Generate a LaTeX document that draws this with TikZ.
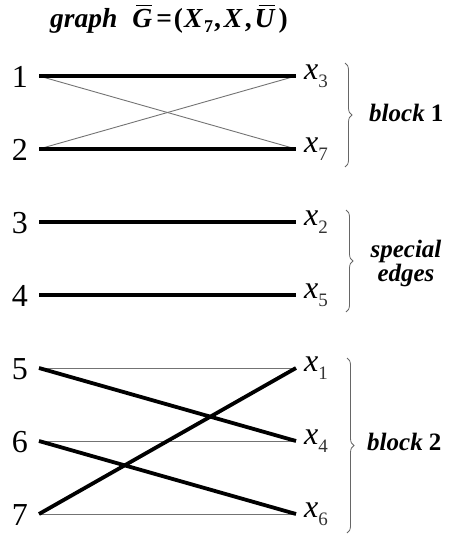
\documentclass[tikz,border=0pt]{standalone}
\usepackage{fontspec}
\setmainfont{Liberation Serif}
\usetikzlibrary{decorations.pathreplacing}
\newcommand{\barred}[3]{\makebox[0pt][l]{\kern#2\rule[22pt]{#3}{1.1pt}}#1}
\tikzset{
  thickedge/.style={line width=3.8pt, black},
  thinedge/.style={line width=0.9pt, black!55},
  numlabel/.style={anchor=base, inner sep=0pt, font=\fontsize{32}{36}\selectfont},
  xlabel/.style={anchor=mid west, inner sep=0pt, font=\fontsize{32}{36}\selectfont},
  bracestyle/.style={decorate, decoration={brace, amplitude=7pt}, line width=0.8pt, black!60},
  blocktext/.style={inner sep=0pt, font=\fontsize{25}{27}\selectfont\bfseries\itshape}
}
\begin{document}
\begin{tikzpicture}[x=1pt, y=-1pt]
\useasboundingbox (0,0) rectangle (448,535);
% title
\node[anchor=base west, inner sep=0pt, font=\fontsize{27.5}{30}\selectfont\bfseries] (title) at (50,28)
  {\textit{graph}\kern15pt\textit{\barred{G}{4pt}{16pt}}\kern4pt=\kern2pt(\kern1pt\textit{X}\kern1pt\raisebox{-5pt}{\fontsize{18}{20}\selectfont 7}\kern1pt,\kern3pt\textit{X}\kern2pt,\kern3pt\textit{\barred{U}{4pt}{16pt}}\kern3pt)};
% rows
\foreach \i/\y in {1/76,2/149,3/222,4/295,5/368,6/441,7/514}{
  \coordinate (l\i) at (39,\y);
  \node[numlabel] (n\i) at (20,\y+11) {\i};
}
\foreach \j/\s/\y in {a/3/76,b/7/149,c/2/222,d/5/295,e/1/368,f/4/441,g/6/514}{
  \coordinate (r\j) at (296,\y);
  \node[xlabel] (x\j) at (304,\y+1) {\textit{x}\hbox{\raisebox{-8pt}{\fontsize{19}{20}\selectfont\color{black!80}\s}}};
}
% block 1
\draw[thinedge] (l1) -- (rb);
\draw[thinedge] (l2) -- (ra);
\draw[thickedge] (l1) -- (ra);
\draw[thickedge] (l2) -- (rb);
% special edges
\draw[thickedge] (l3) -- (rc);
\draw[thickedge] (l4) -- (rd);
% block 2
\draw[thinedge] (l5) -- (re);
\draw[thinedge] (l6) -- (rf);
\draw[thinedge] (l7) -- (rg);
\draw[thickedge] (l5) -- (rf);
\draw[thickedge] (l6) -- (rg);
\draw[thickedge] (l7) -- (re);
% braces
\coordinate (b1t) at (345,63); \coordinate (b1b) at (345,167);
\coordinate (b2t) at (346,210); \coordinate (b2b) at (346,312);
\coordinate (b3t) at (347,358); \coordinate (b3b) at (347,533);
\draw[bracestyle] (b1t) -- (b1b);
\draw[bracestyle] (b2t) -- (b2b);
\draw[bracestyle] (b3t) -- (b3b);
\node[blocktext, anchor=west] (blk1) at (369,113) {block {\upshape 1}};
\node[blocktext, align=center] (spec) at (406,263) {special\\[-3pt]edges};
\node[blocktext, anchor=west] (blk2) at (367,442) {block {\upshape 2}};
\end{tikzpicture}
\end{document}
